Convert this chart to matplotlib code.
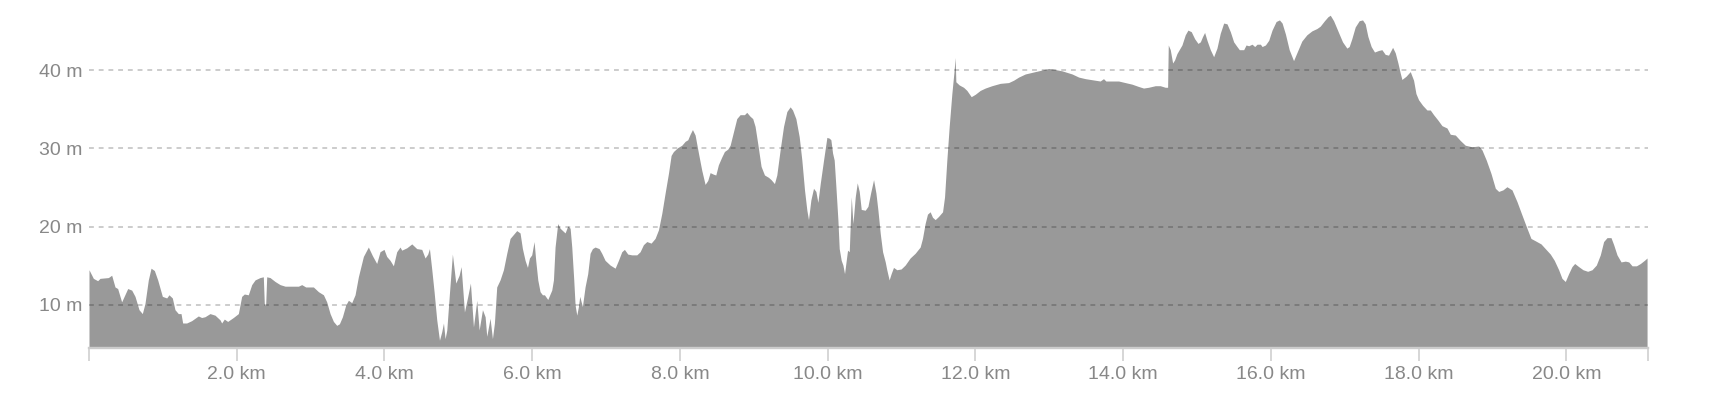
import matplotlib.pyplot as plt

# distance (km) and elevation (m)
dist_km = [
    0.000, 0.059, 0.117, 0.149, 0.262, 0.307, 0.352, 0.388, 0.442, 0.524,
    0.578, 0.623, 0.677, 0.722, 0.758, 0.803, 0.840, 0.885, 0.930, 0.993,
    1.052, 1.083, 1.128, 1.164, 1.209, 1.246, 1.268, 1.322, 1.390, 1.480,
    1.525, 1.570, 1.638, 1.706, 1.774, 1.796, 1.832, 1.877, 1.954, 2.022,
    2.067, 2.103, 2.157, 2.203, 2.248, 2.315, 2.360, 2.374, 2.392, 2.406,
    2.451, 2.519, 2.587, 2.655,
    2.835, 2.880, 2.934, 3.038, 3.106, 3.174, 3.218, 3.264, 3.309, 3.354,
    3.390, 3.431, 3.476, 3.512, 3.557, 3.602, 3.647, 3.715, 3.782, 3.837,
    3.895, 3.940, 3.994, 4.030, 4.076, 4.121, 4.166, 4.211, 4.234, 4.302,
    4.370, 4.437, 4.505, 4.550, 4.586, 4.609, 4.641, 4.672, 4.708, 4.745,
    4.776, 4.799, 4.821, 4.844, 4.880, 4.920, 4.966, 5.011, 5.038, 5.083,
    5.128, 5.164, 5.205, 5.250, 5.282, 5.327, 5.363,
    5.385, 5.430, 5.462, 5.489, 5.520, 5.565, 5.611, 5.656, 5.701, 5.746,
    5.791, 5.836, 5.868, 5.904, 5.936, 5.963, 5.994, 6.026, 6.048, 6.076,
    6.107, 6.139, 6.166, 6.211, 6.265, 6.288, 6.310, 6.346, 6.378, 6.423,
    6.446, 6.482, 6.514, 6.536, 6.563, 6.581, 6.604, 6.626, 6.644, 6.680,
    6.716, 6.752, 6.784, 6.816, 6.852, 6.906, 6.942, 6.987, 7.055, 7.123,
    7.168, 7.213, 7.249, 7.294, 7.349, 7.416, 7.461, 7.506, 7.552, 7.610,
    7.664, 7.710, 7.755, 7.800, 7.845, 7.881, 7.913, 7.971, 8.026, 8.071,
    8.107, 8.138, 8.170, 8.206, 8.251, 8.296, 8.341, 8.377, 8.409, 8.454,
    8.486, 8.521, 8.567, 8.603, 8.648, 8.680, 8.725, 8.770, 8.815, 8.874,
    8.905, 8.950, 8.986, 9.018, 9.054, 9.099, 9.145, 9.199, 9.235, 9.280,
    9.312, 9.357, 9.403, 9.448, 9.493, 9.525, 9.570, 9.615, 9.651, 9.687,
    9.719, 9.741, 9.773, 9.809, 9.841, 9.868, 9.900, 9.945, 9.990, 10.022,
    10.044, 10.067, 10.089, 10.112, 10.139, 10.157, 10.184, 10.207, 10.229, 10.252,
    10.270, 10.293, 10.320, 10.343, 10.374, 10.401, 10.428, 10.455, 10.509, 10.546,
    10.582, 10.622, 10.654, 10.681, 10.713, 10.744, 10.780,
    10.801, 10.833, 10.860, 10.892, 10.937, 10.995, 11.050, 11.117, 11.185, 11.253,
    11.284, 11.320, 11.352, 11.388, 11.420, 11.456, 11.501, 11.556, 11.583, 11.614,
    11.646, 11.682, 11.709, 11.727, 11.736, 11.781, 11.840, 11.885, 11.944, 11.998,
    12.066, 12.134, 12.224, 12.337, 12.450, 12.518, 12.586, 12.676, 12.811, 12.902,
    12.992, 13.060, 13.173, 13.309, 13.399, 13.489,
    13.622, 13.690, 13.735, 13.767, 13.848, 13.939, 14.029, 14.120, 14.210, 14.277,
    14.345, 14.436, 14.503, 14.571, 14.603, 14.612, 14.639, 14.671, 14.698, 14.729,
    14.797, 14.842, 14.878, 14.923, 14.969, 15.014, 15.046, 15.077, 15.104, 15.136,
    15.181, 15.226, 15.271, 15.316, 15.362, 15.407, 15.452, 15.497, 15.542, 15.574,
    15.633, 15.665, 15.701, 15.746, 15.782, 15.814, 15.859, 15.882, 15.927, 15.972,
    16.017, 16.072, 16.117, 16.153, 16.198,
    16.249, 16.308, 16.366, 16.420, 16.488, 16.556, 16.624, 16.669, 16.727, 16.773,
    16.805, 16.850, 16.908, 16.971, 17.030, 17.061, 17.097, 17.143, 17.197, 17.242,
    17.278, 17.314, 17.359, 17.404, 17.459, 17.504, 17.549, 17.594, 17.649, 17.685,
    17.721, 17.753, 17.775, 17.830, 17.888, 17.933, 17.965, 18.001, 18.055, 18.114,
    18.159, 18.204, 18.263, 18.317, 18.385, 18.430, 18.498, 18.566,
    18.633, 18.723, 18.814, 18.859, 18.917, 18.981, 19.040, 19.085, 19.143, 19.197,
    19.265, 19.333, 19.400, 19.468, 19.522, 19.581, 19.658, 19.716, 19.784, 19.838,
    19.897, 19.942, 19.987, 20.032, 20.077, 20.114, 20.168, 20.227, 20.290, 20.349,
    20.407, 20.461, 20.506, 20.552, 20.606, 20.642, 20.687, 20.742, 20.800, 20.846,
    20.891, 20.950, 21.004, 21.058, 21.094,
]

elev_m = [
    14.5, 13.4, 13.1, 13.4, 13.5, 13.8, 12.3, 12.1, 10.4, 12.1,
    11.9, 11.1, 9.4, 8.9, 10.2, 13.2, 14.7, 14.4, 13.2, 11.1,
    10.9, 11.3, 10.9, 9.4, 8.9, 8.9, 7.7, 7.7, 8.0, 8.6,
    8.4, 8.5, 8.9, 8.7, 8.1, 7.7, 8.2, 7.9, 8.4, 8.9,
    11.1, 11.4, 11.3, 12.6, 13.2, 13.5, 13.6, 10.0, 10.0, 13.6,
    13.5, 13.0, 12.6, 12.4,
    12.4, 12.6, 12.3, 12.3, 11.7, 11.3, 10.4, 8.9, 7.9, 7.4,
    7.6, 8.5, 10.0, 10.6, 10.3, 11.3, 13.6, 16.2, 17.4, 16.3,
    15.3, 16.8, 17.1, 16.2, 15.7, 15.0, 16.8, 17.4, 17.0, 17.3,
    17.8, 17.2, 17.1, 16.0, 16.5, 17.2, 14.5, 11.7, 8.1, 5.5,
    6.6, 7.7, 5.7, 6.8, 11.5, 16.5, 12.8, 13.8, 14.9, 9.1,
    11.1, 12.8, 7.2, 10.6, 6.8, 9.4, 8.5,
    6.0, 8.3, 5.7, 7.7, 12.3, 13.2, 14.5, 16.6, 18.5, 19.0,
    19.5, 19.2, 17.2, 15.7, 14.8, 16.0, 16.4, 18.1, 15.7, 13.2,
    11.7, 11.3, 11.3, 10.7, 11.9, 13.2, 17.4, 20.4, 19.8, 19.4,
    19.2, 20.1, 19.8, 17.4, 13.2, 10.0, 8.7, 9.8, 11.1, 9.8,
    12.3, 14.0, 16.6, 17.2, 17.4, 17.2, 16.6, 15.7, 15.1, 14.7,
    15.7, 16.8, 17.1, 16.5, 16.4, 16.4, 16.8, 17.7, 18.1, 17.9,
    18.5, 19.6, 21.7, 24.3, 26.8, 29.1, 29.6, 30.1, 30.4, 30.9,
    31.1, 31.8, 32.4, 31.7, 29.4, 27.2, 25.4, 25.9, 26.9, 26.7,
    26.6, 27.9, 28.9, 29.6, 29.9, 30.4, 32.1, 33.8, 34.3, 34.3,
    34.6, 34.1, 33.8, 32.8, 30.6, 27.7, 26.6, 26.3, 26.0, 25.5,
    26.6, 29.8, 32.8, 34.7, 35.3, 34.9, 33.8, 31.5, 28.5, 24.7,
    22.1, 20.9, 23.4, 24.9, 24.5, 23.1, 25.5, 28.5, 31.4, 31.3,
    31.1, 29.4, 28.5, 25.1, 20.9, 17.2, 15.7, 15.1, 14.0, 15.7,
    17.0, 16.8, 23.8, 20.4, 23.8, 25.6, 24.5, 22.2, 22.1, 22.6,
    24.3, 26.0, 24.3, 22.1, 19.1, 16.8, 15.5,
    14.5, 13.2, 14.0, 14.8, 14.5, 14.6, 15.1, 16.0, 16.6, 17.4,
    18.5, 20.4, 21.6, 21.9, 21.2, 20.9, 21.3, 21.9, 23.8, 28.5,
    32.8, 37.0, 39.6, 41.6, 38.5, 38.1, 37.8, 37.4, 36.6, 36.9,
    37.4, 37.7, 38.0, 38.3, 38.4, 38.7, 39.1, 39.5, 39.8, 40.0,
    40.2, 40.1, 39.9, 39.5, 39.1, 38.9,
    38.7, 38.6, 38.9, 38.6, 38.6, 38.6, 38.4, 38.2, 37.9, 37.7,
    37.8, 38.0, 38.0, 37.8, 37.8, 43.2, 42.6, 40.9, 41.3, 42.1,
    43.2, 44.5, 45.1, 44.9, 44.0, 43.4, 43.6, 44.3, 44.8, 43.8,
    42.6, 41.7, 42.8, 44.7, 46.0, 45.9, 44.9, 43.6, 43.0, 42.6,
    42.6, 43.2, 43.1, 43.3, 43.0, 43.3, 43.3, 43.0, 43.2, 43.8,
    45.1, 46.2, 46.4, 46.0, 44.6,
    42.6, 41.2, 42.5, 43.7, 44.5, 45.0, 45.3, 45.6, 46.3, 46.8,
    47.0, 46.3, 45.0, 43.6, 42.8, 43.0, 44.0, 45.5, 46.3, 46.4,
    45.9, 44.3, 43.0, 42.3, 42.5, 42.6, 42.0, 41.9, 42.9, 42.2,
    40.9, 39.6, 38.8, 39.2, 39.8, 38.7, 37.0, 36.2, 35.5, 34.9,
    34.9, 34.3, 33.6, 32.9, 32.6, 31.8, 31.7, 31.0,
    30.4, 30.2, 30.3, 29.8, 28.5, 26.8, 24.9, 24.5, 24.7, 25.1,
    24.7, 23.2, 21.5, 19.8, 18.5, 18.2, 17.8, 17.2, 16.5, 15.7,
    14.5, 13.4, 13.0, 14.0, 14.9, 15.3, 14.9, 14.5, 14.3, 14.5,
    15.1, 16.4, 18.1, 18.6, 18.6, 17.7, 16.4, 15.5, 15.6, 15.5,
    15.0, 15.0, 15.3, 15.7, 16.0,
]

x_ticks = [2, 4, 6, 8, 10, 12, 14, 16, 18, 20]
x_labels = ['%.1f km' % t for t in x_ticks]
y_ticks = [10, 20, 30, 40]
y_labels = ['%d m' % t for t in y_ticks]

x_max = 21.1
y_min, y_max = 4.47, 48.0

plt.rcParams['font.family'] = ['Liberation Sans', 'DejaVu Sans']

fig = plt.figure(figsize=(17.14, 4.08), dpi=100)
ax = fig.add_axes([89 / 1714, 59.7 / 408, 1558.5 / 1714, 340.9 / 408])

ax.fill_between(dist_km, elev_m, y_min, color='#999999', lw=0, zorder=1)

ax.set_xlim(0, x_max)
ax.set_ylim(y_min, y_max)

# grid drawn over the fill, translucent so it darkens on the grey
for t in y_ticks:
    ax.axhline(t, color=(0, 0, 0, 0.2), lw=1.4, ls=(0, (2.5, 2.5)), zorder=2)

ax.set_xticks([0] + x_ticks + [x_max])
ax.set_xticklabels([''] + x_labels + [''])
ax.set_yticks(y_ticks)
ax.set_yticklabels(y_labels)

ax.tick_params(axis='x', colors='#cccccc', length=9, width=1.1, pad=4,
               labelcolor='#888888', labelsize=14)
ax.tick_params(axis='y', length=0, pad=5, labelcolor='#888888', labelsize=14)

for side in ['top', 'right', 'left']:
    ax.spines[side].set_visible(False)
ax.spines['bottom'].set_color('#cccccc')
ax.spines['bottom'].set_linewidth(1.7)
ax.spines['bottom'].set_zorder(3)

fig.savefig('out.png', dpi=100)
